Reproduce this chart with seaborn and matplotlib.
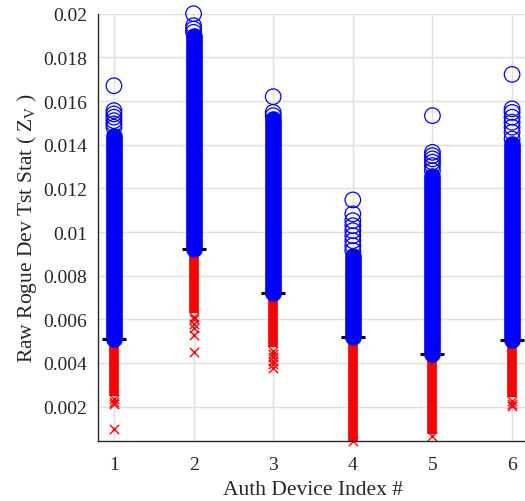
import numpy as np
import pandas as pd
import matplotlib
matplotlib.use("Agg")
import matplotlib.pyplot as plt
import seaborn as sns

# ---- data ----
devices = [1, 2, 3, 4, 5, 6]
thresholds = [0.0051, 0.0092, 0.00722, 0.00518, 0.00441, 0.00506]
# dense (overplotted) region extents
blue_dense_top = [0.01441, 0.0190, 0.01518, 0.00892, 0.01258, 0.01403]
red_dense_bottom = [0.0025, 0.0063, 0.00472, 0.00044, 0.00075, 0.00243]

# individually visible blue circles (above threshold)
blue_out_dev = [1, 1, 1, 1, 1, 1, 1,
                2, 2, 2, 2,
                3, 3, 3,
                4, 4, 4, 4, 4, 4, 4, 4, 4,
                5, 5, 5, 5, 5, 5, 5,
                6, 6, 6, 6, 6, 6, 6, 6]
blue_out_val = [0.0167, 0.01556, 0.01541, 0.01526, 0.0151, 0.01495, 0.0148,
                0.0200, 0.01945, 0.0193, 0.01915,
                0.0162, 0.01548, 0.01533,
                0.01147, 0.01083, 0.01052, 0.01029, 0.01006, 0.00983, 0.0096, 0.00937, 0.00915,
                0.01533, 0.01365, 0.0135, 0.01335, 0.0132, 0.01304, 0.01281,
                0.01722, 0.01564, 0.01548, 0.01526, 0.01503, 0.0148, 0.01457, 0.01426]

# individually visible red crosses (below threshold)
red_out_dev = [1, 1, 1, 1,
               2, 2, 2, 2, 2, 2,
               3, 3, 3, 3, 3, 3,
               4,
               5,
               6, 6, 6]
red_out_val = [0.00235, 0.0022, 0.00212, 0.00098,
               0.0061, 0.006, 0.0058, 0.0056, 0.0053, 0.0045,
               0.00457, 0.00441, 0.00426, 0.00411, 0.00396, 0.00376,
               0.00044,
               0.00067,
               0.00228, 0.00212, 0.00201]

ytick_vals = [0.002, 0.004, 0.006, 0.008, 0.01, 0.012, 0.014, 0.016, 0.018, 0.02]
ytick_labels = ['0.002', '0.004', '0.006', '0.008', '0.01', '0.012', '0.014', '0.016', '0.018', '0.02']

# ---- style ----
sns.set_style("white")
plt.rcParams['font.family'] = ['Liberation Serif', 'DejaVu Serif']
plt.rcParams['mathtext.fontset'] = 'custom'
plt.rcParams['mathtext.rm'] = 'Liberation Serif'
plt.rcParams['mathtext.it'] = 'Liberation Serif:italic'

fig = plt.figure(figsize=(5.25, 5.02), dpi=100)
ax = fig.add_axes([0.1867, 0.1201, 1.0057 - 0.1867, 0.9707 - 0.1201])

txt_col = '#262626'

# grid
ax.set_axisbelow(True)
ax.grid(True, color='#e0e0e0', linewidth=1.0)

# red dense columns
red_lc = ax.vlines(devices, red_dense_bottom, thresholds, colors='#ff0000',
                   linewidth=7.0, zorder=2)
red_lc.set_capstyle('butt')
red_lc.set_clip_on(False)

red_df = pd.DataFrame({'dev': red_out_dev, 'val': red_out_val})
sns.scatterplot(data=red_df, x='dev', y='val', marker='x', color='#ff0000',
                s=45, linewidth=1.0, ax=ax, zorder=2, clip_on=False, legend=False)

# threshold dashes
ax.hlines(thresholds, [d - 0.15 for d in devices], [d + 0.15 for d in devices],
          colors='black', linewidth=2.2, zorder=3)

# blue dense columns
blue_lc = ax.vlines(devices, thresholds, blue_dense_top, colors='#0000ff',
                    linewidth=12.0, zorder=4)
blue_lc.set_capstyle('round')
blue_lc.set_clip_on(False)

blue_df = pd.DataFrame({'dev': blue_out_dev, 'val': blue_out_val})
sns.scatterplot(data=blue_df, x='dev', y='val', marker='o', s=125,
                facecolors='none', edgecolor='#0000ff', linewidth=0.9,
                ax=ax, zorder=4, clip_on=False, legend=False)

ax.set_xlim(0.8, 6.2)
ax.set_ylim(0.00044, 0.02)
ax.set_xticks(devices)
ax.set_xticklabels([str(d) for d in devices])
ax.set_yticks(ytick_vals)
ax.set_yticklabels(ytick_labels)

ax.tick_params(axis='both', direction='in', length=5, width=0.9, colors=txt_col,
               labelsize=14)
ax.tick_params(axis='x', pad=11)
ax.tick_params(axis='y', pad=8)
for side in ['top', 'right']:
    ax.spines[side].set_visible(False)
for side in ['left', 'bottom']:
    ax.spines[side].set_color(txt_col)
    ax.spines[side].set_linewidth(1.0)

ax.set_xlabel('Auth Device Index #', fontsize=15.5, color=txt_col, labelpad=5)
ax.set_ylabel(r'Raw Rogue Dev Tst Stat ( $\mathregular{Z_V}$ )', fontsize=15.5,
              color=txt_col, labelpad=3)

fig.savefig('out.png', dpi=100)
